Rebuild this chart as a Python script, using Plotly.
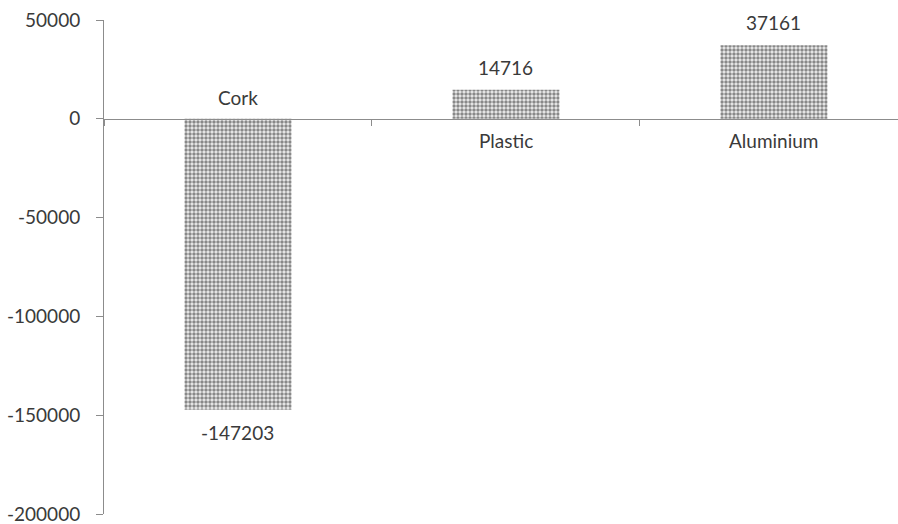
import plotly.graph_objects as go

categories = ["Cork", "Plastic", "Aluminium"]
values = [-147203, 14716, 37161]
value_labels = ["-147203", "14716", "37161"]
y_tickvals = [50000, 0, -50000, -100000, -150000, -200000]
y_ticktext = ["50000", "0", "-50000", "-100000", "-150000", "-200000"]

TXT = "#3a3a3a"
AX = "#8c8c8c"
FONT = "Lato"
FS = 19

fig = go.Figure()
fig.add_trace(go.Bar(
    x=categories, y=values, width=0.4,
    marker=dict(color="white", line=dict(width=0),
                pattern=dict(shape=".", fgcolor="#222222", bgcolor="#eeeeee",
                             size=4, solidity=0.6)),
    hoverinfo="skip", showlegend=False,
))

ann = []
for c, v, t in zip(categories, values, value_labels):
    if v >= 0:
        ann.append(dict(x=c, y=v, text=t, showarrow=False, yanchor="bottom", yshift=9,
                        font=dict(family=FONT, size=FS, color=TXT)))
        ann.append(dict(x=c, y=0, text=c, showarrow=False, yanchor="top", yshift=-8,
                        font=dict(family=FONT, size=FS, color=TXT)))
    else:
        ann.append(dict(x=c, y=v, text=t, showarrow=False, yanchor="top", yshift=-9,
                        font=dict(family=FONT, size=FS, color=TXT)))
        ann.append(dict(x=c, y=0, text=c, showarrow=False, yanchor="bottom", yshift=8,
                        font=dict(family=FONT, size=FS, color=TXT)))

fig.update_layout(
    width=898, height=524,
    margin=dict(l=104, r=0, t=20, b=10),
    paper_bgcolor="white", plot_bgcolor="white",
    bargap=0.6,
    annotations=ann,
    xaxis=dict(
        type="category", categoryorder="array", categoryarray=categories,
        range=[-0.5, 2.463], anchor="free", position=0.8,
        showline=True, linecolor=AX, linewidth=1,
        ticks="outside", ticklen=6, tickcolor=AX, tickson="boundaries",
        showticklabels=False, showgrid=False, zeroline=False, automargin=False,
    ),
    yaxis=dict(
        range=[-200000, 50000], tickvals=y_tickvals, ticktext=y_ticktext,
        showline=True, linecolor=AX, linewidth=1,
        ticks="outside", ticklen=7, tickcolor=AX, ticklabelstandoff=12,
        ticklabeloverflow="allow", automargin=False,
        showgrid=False, zeroline=False,
        tickfont=dict(family=FONT, size=FS, color=TXT),
    ),
)

fig.write_html("out.html")
